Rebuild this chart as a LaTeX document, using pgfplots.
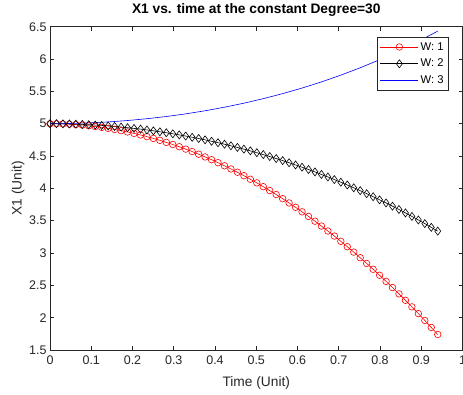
\documentclass[border=0pt]{standalone}
\usepackage{fontspec}
\setmainfont{Liberation Sans}
\usepackage{pgfplots}
\pgfplotsset{compat=1.18}
\definecolor{axgray}{rgb}{0.15,0.15,0.15}
\begin{document}
\begin{tikzpicture}
\begin{axis}[
  at={(50pt,44pt)}, anchor=south west,
  scale only axis, width=412.5pt, height=323.3pt,
  xmin=0, xmax=1, ymin=1.5, ymax=6.5,
  xtick={0,0.1,0.2,0.3,0.4,0.5,0.6,0.7,0.8,0.9,1},
  ytick={1.5,2,2.5,3,3.5,4,4.5,5,5.5,6,6.5},
  tick align=inside, major tick length=4pt,
  axis line style={axgray, line width=0.6pt},
  every tick/.style={axgray, line width=0.6pt},
  /pgf/number format/assume math mode=true,
  tick label style={font=\fontsize{12.5}{14}\selectfont, text=axgray},
  xticklabel style={yshift=-2pt},
  title={\bfseries X1 vs. time at the constant Degree=30},
  title style={at={(axis description cs:0.5,1.034)}, anchor=center, font=\fontsize{13.75}{16}\selectfont},
  xlabel={Time (Unit)}, ylabel={X1 (Unit)},
  xlabel style={at={(axis description cs:0.5,-0.102)}, anchor=center, font=\fontsize{13.75}{16}\selectfont, text=axgray},
  ylabel style={at={(axis description cs:-0.0776,0.5)}, anchor=center, rotate=0, font=\fontsize{13.75}{16}\selectfont, text=axgray},
  legend style={at={(0.967,0.968)}, anchor=north east, draw=axgray, line width=0.6pt, font=\fontsize{11.25}{13}\selectfont, inner xsep=3pt, inner ysep=3pt, row sep=3.5pt, cells={anchor=west}},
  legend image code/.code={\draw[mark repeat=2,mark phase=2] plot coordinates {(0pt,0pt) (19pt,0pt) (38pt,0pt)};},
  clip=false,
]
\addplot[red, line width=0.6pt, mark=o, mark size=3.3pt, mark options={line width=0.6pt}] coordinates {
(0,5.000) (0.01567,4.999) (0.03133,4.996) (0.047,4.992) (0.06267,4.986) (0.07833,4.978)
(0.094,4.968) (0.10967,4.956) (0.12533,4.943) (0.141,4.928) (0.15667,4.911)
(0.17233,4.892) (0.188,4.872) (0.20367,4.850) (0.21933,4.826) (0.235,4.800)
(0.25067,4.772) (0.26633,4.743) (0.282,4.711) (0.29767,4.678) (0.31333,4.644)
(0.329,4.607) (0.34467,4.569) (0.36033,4.528) (0.376,4.486) (0.39167,4.443)
(0.40733,4.397) (0.423,4.349) (0.43867,4.300) (0.45433,4.249) (0.47,4.196)
(0.48567,4.141) (0.50133,4.085) (0.517,4.026) (0.53267,3.966) (0.54833,3.904)
(0.564,3.840) (0.57967,3.774) (0.59533,3.707) (0.611,3.637) (0.62667,3.566)
(0.64233,3.492) (0.658,3.417) (0.67367,3.340) (0.68933,3.262) (0.705,3.181)
(0.72067,3.098) (0.73633,3.014) (0.752,2.927) (0.76767,2.839) (0.78333,2.749)
(0.799,2.656) (0.81467,2.562) (0.83033,2.466) (0.846,2.368) (0.86167,2.269)
(0.87733,2.167) (0.893,2.063) (0.90867,1.957) (0.92433,1.849) (0.94,1.740)
};
\addlegendentry{W: 1}
\addplot[black, line width=0.6pt, mark=diamond, mark size=4pt, mark options={line width=0.6pt}] coordinates {
(0,5.000) (0.01567,5.000) (0.03133,4.998) (0.047,4.996) (0.06267,4.993) (0.07833,4.989)
(0.094,4.985) (0.10967,4.979) (0.12533,4.973) (0.141,4.965) (0.15667,4.957)
(0.17233,4.948) (0.188,4.938) (0.20367,4.927) (0.21933,4.916) (0.235,4.903)
(0.25067,4.890) (0.26633,4.875) (0.282,4.860) (0.29767,4.844) (0.31333,4.827)
(0.329,4.809) (0.34467,4.790) (0.36033,4.771) (0.376,4.750) (0.39167,4.728)
(0.40733,4.706) (0.423,4.683) (0.43867,4.658) (0.45433,4.633) (0.47,4.607)
(0.48567,4.580) (0.50133,4.551) (0.517,4.522) (0.53267,4.492) (0.54833,4.461)
(0.564,4.429) (0.57967,4.396) (0.59533,4.362) (0.611,4.327) (0.62667,4.291)
(0.64233,4.254) (0.658,4.215) (0.67367,4.176) (0.68933,4.136) (0.705,4.095)
(0.72067,4.052) (0.73633,4.009) (0.752,3.964) (0.76767,3.918) (0.78333,3.871)
(0.799,3.823) (0.81467,3.774) (0.83033,3.724) (0.846,3.673) (0.86167,3.620)
(0.87733,3.566) (0.893,3.511) (0.90867,3.455) (0.92433,3.397) (0.94,3.338)
};
\addlegendentry{W: 2}
\addplot[blue, line width=0.6pt] coordinates {
(0,5.000) (0.047,5.003) (0.094,5.012) (0.141,5.027) (0.188,5.049) (0.235,5.077)
(0.282,5.111) (0.329,5.152) (0.376,5.200) (0.423,5.255) (0.47,5.317)
(0.517,5.387) (0.564,5.465) (0.611,5.551) (0.658,5.646) (0.705,5.751)
(0.752,5.865) (0.799,5.989) (0.846,6.125) (0.893,6.272) (0.94,6.432)
};
\addlegendentry{W: 3}
\end{axis}
\pgfresetboundingbox
\path[use as bounding box] (0,0) rectangle (463pt,394pt);
\end{tikzpicture}
\end{document}
